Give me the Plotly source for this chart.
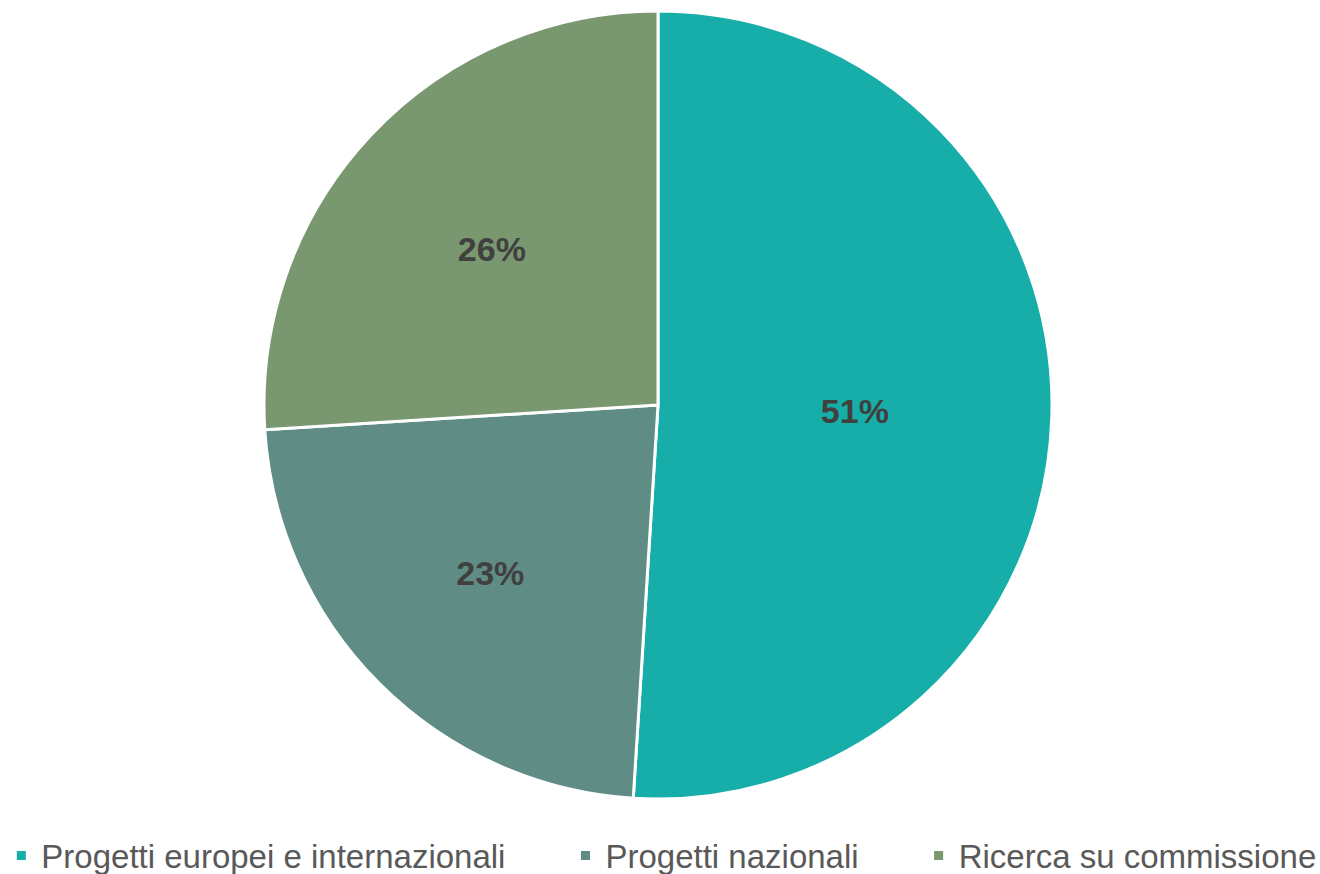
import plotly.graph_objects as go

categories = ["Progetti europei e internazionali", "Progetti nazionali", "Ricerca su commissione"]
values = [51, 23, 26]
colors = ["#17AEA9", "#5F8D85", "#7A9870"]

W, H = 1320, 874
cx, cy, r = 658, 405, 394

# extra gap after each legend entry (non-breaking spaces), layout only
legend_pad = [6, 6, 0]
legend_names = [c + "\u00a0" * p for c, p in zip(categories, legend_pad)]

fig = go.Figure(go.Pie(
    labels=legend_names,
    values=values,
    sort=False,
    direction="clockwise",
    rotation=0,
    marker=dict(colors=colors, line=dict(color="white", width=3)),
    textinfo="percent",
    texttemplate="%{percent:.0%}",
    textposition="inside",
    insidetextorientation="horizontal",
    textfont=dict(family="Liberation Sans", size=34, color="#404040", weight="bold"),
    customdata=categories,
    hovertemplate="%{customdata}: %{percent:.0%}<extra></extra>",
    domain=dict(x=[(cx - r) / W, (cx + r) / W], y=[(H - cy - r) / H, (H - cy + r) / H]),
))

fig.update_layout(
    width=W, height=H,
    margin=dict(l=0, r=0, t=0, b=0, autoexpand=False),
    paper_bgcolor="white",
    showlegend=True,
    legend=dict(
        orientation="h",
        x=0.001, xanchor="left",
        y=-0.011, yanchor="bottom",
        font=dict(family="Liberation Sans", size=33, color="#595959"),
        traceorder="normal",
    ),
)

fig.write_html("out.html", config={"displayModeBar": False},
               post_script="document.body.style.margin='0';")
